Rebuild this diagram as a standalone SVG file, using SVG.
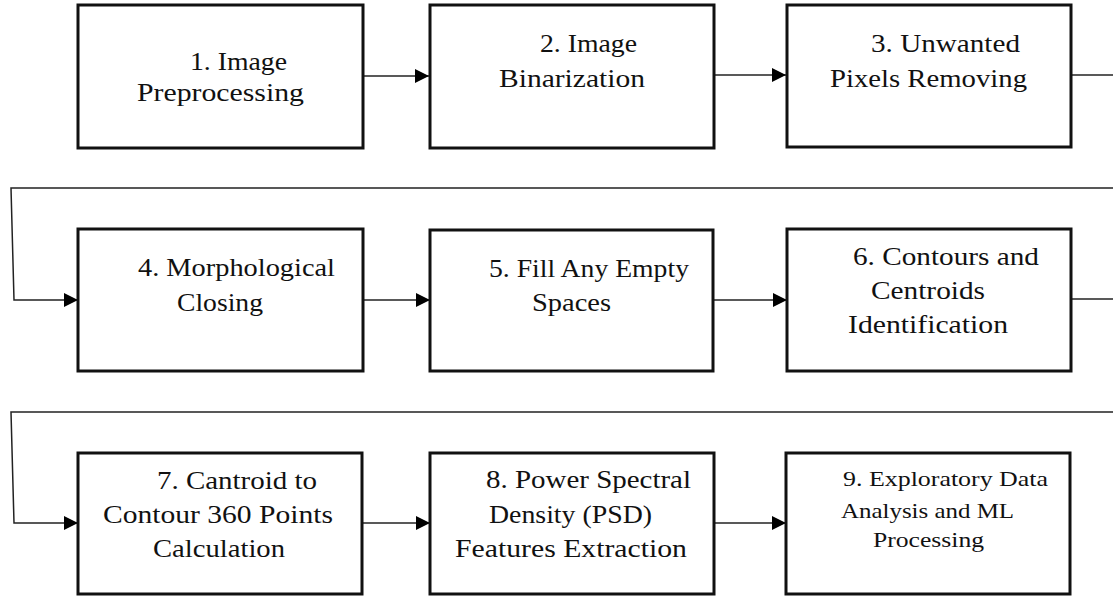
<svg xmlns="http://www.w3.org/2000/svg" width="1113" height="597" viewBox="0 0 1113 597">
  <style>
    .box { fill: #ffffff; stroke: #111111; stroke-width: 3; }
    .lbl { font-family: "Liberation Serif", "Times New Roman", serif; font-size: 25px; fill: #111111; }
    .sm { font-size: 22px; }
    .wire { fill: none; stroke: #222222; stroke-width: 1.5; }
    .arrow { marker-end: url(#head); }
  </style>
  <defs>
    <marker id="head" markerUnits="userSpaceOnUse" markerWidth="15" markerHeight="14" refX="14" refY="7" orient="auto">
      <path d="M0,0 L14,7 L0,14 z" fill="#000000"/>
    </marker>
  </defs>

  <rect width="1113" height="597" fill="#ffffff"/>

  <!-- connectors -->
  <g id="connectors">
    <path class="wire arrow" d="M363,76 H429"/>
    <path class="wire arrow" d="M714,75 H786"/>
    <path class="wire" d="M1071,75 H1113"/>
    <path class="wire arrow" d="M1113,188 H11 L14,300 H78"/>
    <path class="wire arrow" d="M363,300 H430"/>
    <path class="wire arrow" d="M713,300 H787"/>
    <path class="wire" d="M1071,299 H1113"/>
    <path class="wire arrow" d="M1113,412 H11 L14,523 H78"/>
    <path class="wire arrow" d="M362,523 H430"/>
    <path class="wire arrow" d="M714,523 H786"/>
  </g>

  <!-- row 1 -->
  <g id="n1">
    <rect class="box" x="78" y="5" width="285" height="143"/>
    <text class="lbl" x="190" y="70" textLength="97" lengthAdjust="spacingAndGlyphs">1. Image</text>
    <text class="lbl" x="137" y="101" textLength="167" lengthAdjust="spacingAndGlyphs">Preprocessing</text>
  </g>
  <g id="n2">
    <rect class="box" x="430" y="5" width="284" height="143"/>
    <text class="lbl" x="540" y="52" textLength="97" lengthAdjust="spacingAndGlyphs">2. Image</text>
    <text class="lbl" x="499" y="87" textLength="146" lengthAdjust="spacingAndGlyphs">Binarization</text>
  </g>
  <g id="n3">
    <rect class="box" x="787" y="5" width="284" height="142"/>
    <text class="lbl" x="871" y="52" textLength="149" lengthAdjust="spacingAndGlyphs">3. Unwanted</text>
    <text class="lbl" x="830" y="87" textLength="197" lengthAdjust="spacingAndGlyphs">Pixels Removing</text>
  </g>

  <!-- row 2 -->
  <g id="n4">
    <rect class="box" x="78" y="229" width="285" height="142"/>
    <text class="lbl" x="138" y="276" textLength="197" lengthAdjust="spacingAndGlyphs">4. Morphological</text>
    <text class="lbl" x="177" y="311" textLength="86" lengthAdjust="spacingAndGlyphs">Closing</text>
  </g>
  <g id="n5">
    <rect class="box" x="430" y="230" width="283" height="141"/>
    <text class="lbl" x="489" y="277" textLength="200" lengthAdjust="spacingAndGlyphs">5. Fill Any Empty</text>
    <text class="lbl" x="532" y="311" textLength="79" lengthAdjust="spacingAndGlyphs">Spaces</text>
  </g>
  <g id="n6">
    <rect class="box" x="787" y="229" width="284" height="142"/>
    <text class="lbl" x="853" y="265" textLength="186" lengthAdjust="spacingAndGlyphs">6. Contours and</text>
    <text class="lbl" x="871" y="299" textLength="114" lengthAdjust="spacingAndGlyphs">Centroids</text>
    <text class="lbl" x="848" y="333" textLength="160" lengthAdjust="spacingAndGlyphs">Identification</text>
  </g>

  <!-- row 3 -->
  <g id="n7">
    <rect class="box" x="78" y="453" width="284" height="141"/>
    <text class="lbl" x="157" y="489" textLength="160" lengthAdjust="spacingAndGlyphs">7. Cantroid to</text>
    <text class="lbl" x="103" y="523" textLength="230" lengthAdjust="spacingAndGlyphs">Contour 360 Points</text>
    <text class="lbl" x="153" y="557" textLength="132" lengthAdjust="spacingAndGlyphs">Calculation</text>
  </g>
  <g id="n8">
    <rect class="box" x="430" y="453" width="284" height="141"/>
    <text class="lbl" x="486" y="488" textLength="205" lengthAdjust="spacingAndGlyphs">8. Power Spectral</text>
    <text class="lbl" x="489" y="523" textLength="163" lengthAdjust="spacingAndGlyphs">Density (PSD)</text>
    <text class="lbl" x="455" y="557" textLength="232" lengthAdjust="spacingAndGlyphs">Features Extraction</text>
  </g>
  <g id="n9">
    <rect class="box" x="786" y="453" width="284" height="141"/>
    <text class="lbl sm" x="843" y="486" textLength="205" lengthAdjust="spacingAndGlyphs">9. Exploratory  Data</text>
    <text class="lbl sm" x="841" y="518" textLength="173" lengthAdjust="spacingAndGlyphs">Analysis and ML</text>
    <text class="lbl sm" x="873" y="547" textLength="111" lengthAdjust="spacingAndGlyphs">Processing</text>
  </g>
</svg>
